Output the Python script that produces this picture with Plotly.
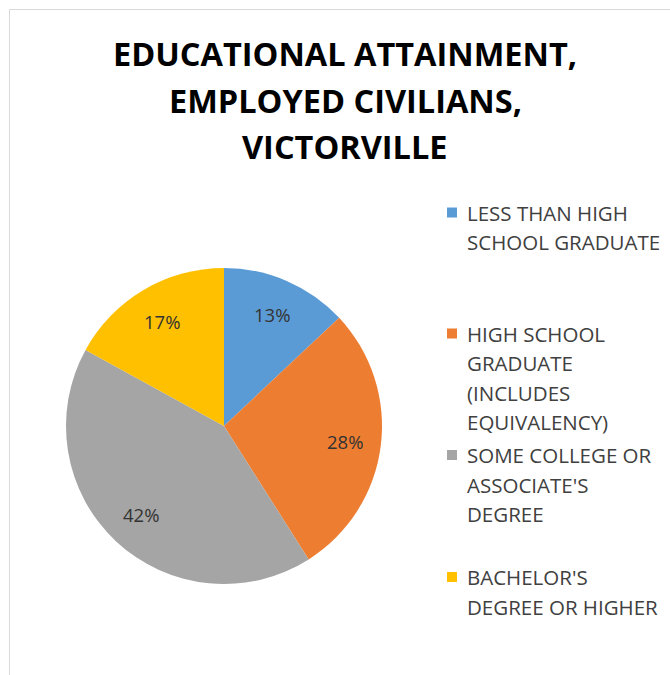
import math
import plotly.graph_objects as go

# Educational attainment of employed civilians, Victorville (percent)
categories = [
    "LESS THAN HIGH SCHOOL GRADUATE",
    "HIGH SCHOOL GRADUATE (INCLUDES EQUIVALENCY)",
    "SOME COLLEGE OR ASSOCIATE'S DEGREE",
    "BACHELOR'S DEGREE OR HIGHER",
]
shares = [13, 28, 42, 17]
legend_lines = [
    ["LESS THAN HIGH", "SCHOOL GRADUATE"],
    ["HIGH SCHOOL", "GRADUATE", "(INCLUDES", "EQUIVALENCY)"],
    ["SOME COLLEGE OR", "ASSOCIATE'S", "DEGREE"],
    ["BACHELOR'S", "DEGREE OR HIGHER"],
]
title_lines = ["EDUCATIONAL ATTAINMENT,", "EMPLOYED CIVILIANS,", "VICTORVILLE"]
colors = ["#5B9BD5", "#ED7D31", "#A5A5A5", "#FFC000"]

W, H = 670, 675
PIE_CX, PIE_CY, PIE_R = 224, 426, 158  # pixels from top-left
LABEL_R = 0.77

def px(x):
    return x / W

def py(y):
    return 1 - y / H

fig = go.Figure(
    go.Pie(
        labels=categories,
        values=shares,
        marker=dict(colors=colors, line=dict(width=0)),
        sort=False,
        direction="clockwise",
        rotation=0,
        textinfo="none",
        hoverinfo="label+percent",
        showlegend=False,
        domain=dict(
            x=[px(PIE_CX - PIE_R), px(PIE_CX + PIE_R)],
            y=[py(PIE_CY + PIE_R), py(PIE_CY - PIE_R)],
        ),
    )
)

annotations = []

# percentage labels placed along each slice's bisector
total = sum(shares)
cum = 0
for v in shares:
    mid = (cum + v / 2) / total * 2 * math.pi
    cum += v
    lx = PIE_CX + LABEL_R * PIE_R * math.sin(mid)
    ly = PIE_CY - LABEL_R * PIE_R * math.cos(mid)
    annotations.append(dict(
        x=px(lx), y=py(ly), xref="paper", yref="paper",
        text=f"{round(v / total * 100)}%", showarrow=False,
        font=dict(family="Open Sans", size=18.5, color="#333333"),
        xanchor="center", yanchor="middle",
    ))

# title, one annotation per line
for i, line in enumerate(title_lines):
    annotations.append(dict(
        x=px(345), y=py(54 + i * 46), xref="paper", yref="paper",
        text=f"<b>{line}</b>", showarrow=False,
        font=dict(family="Open Sans", size=32.5, color="#000000"),
        xanchor="center", yanchor="middle",
    ))

# legend: coloured squares and wrapped labels
shapes = []
entry_tops = [212.5, 333.5, 455, 577]
LINE_GAP = 29.5
for top, lines, col in zip(entry_tops, legend_lines, colors):
    shapes.append(dict(
        type="rect", xref="paper", yref="paper",
        x0=px(447), x1=px(457), y0=py(top - 5), y1=py(top + 5),
        fillcolor=col, line=dict(width=0),
    ))
    for j, t in enumerate(lines):
        annotations.append(dict(
            x=px(465), y=py(top + j * LINE_GAP), xref="paper", yref="paper",
            text=t, showarrow=False,
            font=dict(family="Open Sans", size=20.5, color="#404040"),
            xanchor="left", yanchor="middle",
        ))

# chart area frame
shapes.append(dict(
    type="rect", xref="paper", yref="paper",
    x0=px(9.5), x1=px(W + 10), y0=py(H + 10), y1=py(9.5),
    line=dict(color="#D9D9D9", width=1), fillcolor="rgba(0,0,0,0)",
    layer="below",
))

fig.update_layout(
    width=W, height=H,
    margin=dict(l=0, r=0, t=0, b=0),
    paper_bgcolor="white",
    plot_bgcolor="white",
    annotations=annotations,
    shapes=shapes,
)

fig.write_html("out.html")
